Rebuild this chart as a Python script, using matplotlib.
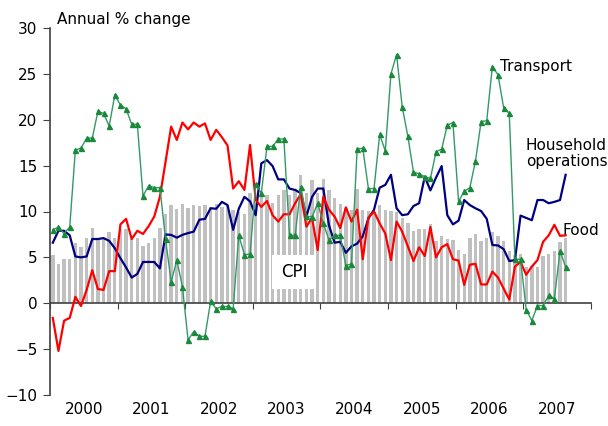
import numpy as np
from matplotlib import pyplot as plt
from matplotlib.ticker import FixedLocator, NullFormatter

# monthly annual % change, Jan 2000 .. Aug 2007
transport = [8.0, 8.3, 7.6, 8.3, 16.7, 16.9, 18.0, 18.0, 20.9, 20.7, 19.3, 22.7,
             21.6, 21.2, 19.5, 19.5, 11.7, 12.8, 12.6, 12.6, 7.0, 2.3, 4.7, 1.8,
             -4.0, -3.1, -3.6, -3.6, 0.2, -0.6, -0.35, -0.35, -0.6, 7.4, 5.3, 5.35,
             13.0, 12.0, 17.1, 17.1, 17.9, 17.9, 7.4, 7.4, 12.7, 9.5, 9.4, 10.9,
             8.7, 6.9, 7.4, 7.4, 4.1, 4.3, 16.8, 16.9, 12.5, 12.5, 18.4, 16.6,
             25.0, 27.1, 21.4, 18.2, 14.3, 14.1, 13.8, 13.6, 16.5, 16.8, 19.4, 19.7,
             11.1, 12.2, 12.6, 15.5, 19.8, 19.9, 25.8, 24.9, 21.3, 20.7, 4.8, 4.8,
             -0.7, -1.9, -0.25, -0.25, 0.85, 0.5, 5.7, 3.95]

household = [6.6, 7.9, 7.9, 7.4, 5.1, 5.0, 5.1, 7.0, 7.0, 7.1, 6.8, 6.0,
             4.9, 3.9, 2.8, 3.2, 4.5, 4.5, 4.5, 3.8, 7.5, 7.45, 7.15, 7.45,
             7.65, 7.8, 9.1, 9.2, 10.35, 10.3, 11.05, 10.7, 8.0, 10.3, 11.6, 11.1,
             9.6, 15.25, 15.6, 14.95, 13.5, 13.5, 12.5, 12.35, 12.0, 9.45, 11.6, 12.5,
             12.5, 8.5, 6.6, 6.7, 5.5, 6.2, 6.5, 7.3, 9.25, 10.2, 12.6, 12.9,
             14.0, 10.35, 9.6, 9.7, 10.6, 10.9, 13.8, 12.3, 13.7, 14.95, 9.6, 8.6,
             9.0, 11.25, 10.7, 10.35, 10.05, 9.2, 6.35, 6.3, 5.9, 4.6, 4.7, 9.55,
             9.3, 9.05, 11.25, 11.25, 10.9, 11.05, 11.25, 14.0]

food = [-1.6, -5.2, -1.9, -1.6, 0.7, -0.3, 1.45, 3.6, 1.55, 1.45, 3.5, 3.5,
        8.6, 9.2, 7.0, 7.9, 7.55, 8.4, 9.45, 11.6, 15.4, 19.25, 17.8, 19.7,
        18.95, 19.7, 19.25, 19.6, 17.8, 18.9, 18.1, 17.2, 12.5, 13.3, 12.35, 17.25,
        11.25, 10.5, 11.15, 9.6, 8.9, 9.7, 9.7, 10.9, 11.9, 8.35, 9.3, 5.8,
        11.6, 10.2, 9.45, 8.2, 10.45, 8.9, 10.2, 4.8, 9.35, 10.0, 8.7, 7.6,
        4.7, 8.9, 7.8, 6.2, 4.6, 6.1, 5.15, 8.3, 5.0, 6.1, 6.45, 4.8,
        4.65, 2.0, 4.2, 4.3, 2.05, 2.05, 3.45, 2.8, 1.6, 0.4, 4.0, 4.5,
        3.1, 4.0, 4.7, 6.7, 7.4, 8.55, 7.35, 7.4]

cpi = [5.3, 4.3, 4.8, 4.8, 6.6, 6.1, 7.1, 8.2, 7.0, 7.0, 7.8, 7.1,
       8.1, 8.1, 7.0, 7.1, 6.2, 6.6, 7.1, 8.2, 9.7, 10.7, 10.3, 10.8,
       10.4, 10.7, 10.6, 10.7, 10.5, 10.8, 10.5, 10.7, 10.2, 9.9, 9.7, 12.0,
       11.0, 11.8, 11.8, 10.9, 11.8, 12.35, 11.8, 12.5, 14.0, 12.0, 13.4, 12.0,
       13.5, 12.35, 11.5, 10.8, 10.4, 10.2, 12.5, 10.2, 10.1, 10.0, 10.7, 10.2,
       10.1, 10.0, 9.25, 8.7, 7.9, 8.1, 8.1, 8.6, 6.8, 7.3, 7.0, 6.9,
       5.8, 5.4, 7.1, 7.55, 6.8, 7.1, 7.8, 7.3, 6.8, 5.7, 5.3, 5.4,
       3.9, 4.05, 4.0, 5.1, 5.4, 5.7, 6.7, 7.1]

years = ['2000', '2001', '2002', '2003', '2004', '2005', '2006', '2007']

fig = plt.figure(figsize=(6.08, 4.26), dpi=100)
ax = fig.add_axes([50/608., 1-395/426., 541/608., 367/426.])

x = np.arange(len(cpi))
ax.bar(x, cpi, width=0.6, color='#c0c0c0', zorder=1)
ax.plot(x, household, color='#000080', lw=1.6, zorder=3)
ax.plot(x, food, color='#ff0000', lw=1.6, zorder=3)
ax.plot(x, transport, color='#339966', lw=1.0, marker='^', ms=3.6,
        mfc='#1a8a3a', mec='#1a8a3a', zorder=4)

ax.set_xlim(-0.5, 12*len(years) - 0.5)
ax.set_ylim(-10, 30)
ax.set_yticks(np.arange(-10, 31, 5))

for s in ['top', 'right']:
    ax.spines[s].set_visible(False)
ax.spines['bottom'].set_position(('data', 0))
ax.spines['bottom'].set_color('#404040')
ax.spines['left'].set_color('#404040')
ax.spines['left'].set_linewidth(1.2)
ax.spines['bottom'].set_linewidth(1.2)

ax.xaxis.set_major_locator(FixedLocator(np.arange(len(years)+1)*12 - 0.5))
ax.xaxis.set_major_formatter(NullFormatter())
ax.tick_params(axis='x', direction='out', length=4, color='#404040')
ax.tick_params(axis='y', direction='out', length=5, color='#404040',
               labelsize=11, pad=4)

for i, yr in enumerate(years):
    ax.text(i*12 + 5.5, -0.04, yr, transform=ax.get_xaxis_transform(),
            ha='center', va='center', fontsize=11)

ax.text(0.75, 30.9, 'Annual % change', fontsize=11, va='center', clip_on=False)
ax.text(79.4, 25.75, 'Transport', fontsize=11, va='center')
ax.text(83.9, 16.3, 'Household\noperations', fontsize=11, va='center',
        linespacing=1.1, clip_on=False)
ax.text(90.4, 7.9, 'Food', fontsize=11, va='center', zorder=2)
ax.text(42.8, 3.4, 'CPI', fontsize=12, ha='center', va='center', zorder=2,
        bbox=dict(facecolor='white', edgecolor='none', pad=6))

plt.savefig('out.png', dpi=100, facecolor='w')
